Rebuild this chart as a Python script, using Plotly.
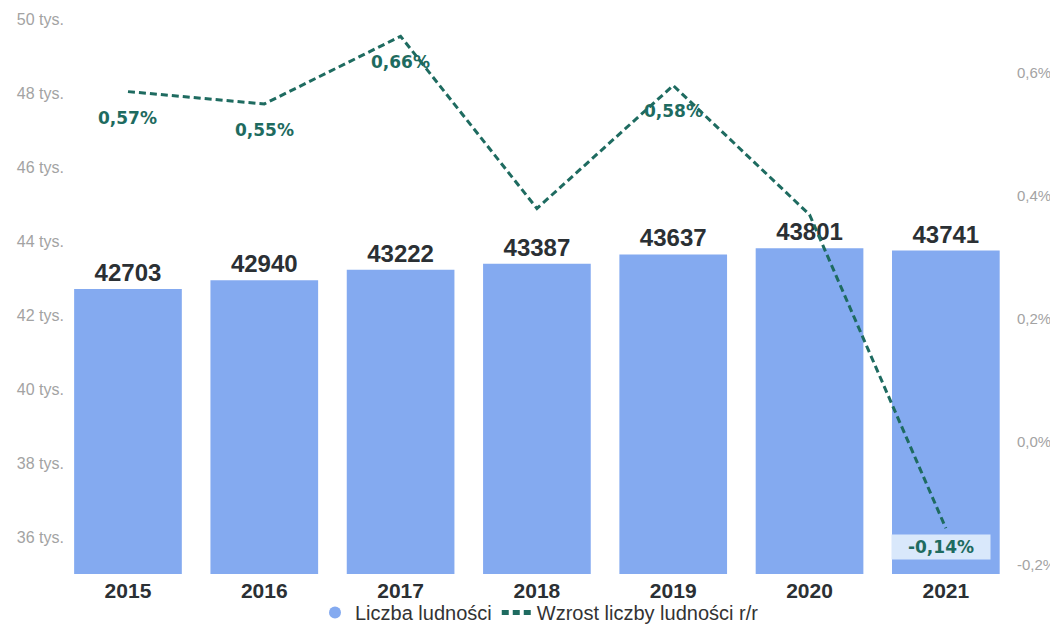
import plotly.graph_objects as go

years = ["2015", "2016", "2017", "2018", "2019", "2020", "2021"]
population = [42703, 42940, 43222, 43387, 43637, 43801, 43741]
growth_pct = [0.57, 0.55, 0.66, 0.38, 0.58, 0.37, -0.14]
growth_labels = ["0,57%", "0,55%", "0,66%", "", "0,58%", "", "-0,14%"]
left_ticks = [36000, 38000, 40000, 42000, 44000, 46000, 48000, 50000]
right_ticks = [-0.2, 0.0, 0.2, 0.4, 0.6]

BAR = "#84aaf0"
LINE = "#1e6b60"
TXT = "#2b3034"
TICK = "#a3a3a3"

fig = go.Figure()
fig.add_trace(go.Bar(
    x=years, y=population, name="Liczba ludności",
    marker=dict(color=BAR, line=dict(width=0)),
    text=[str(v) for v in population], textposition="outside",
    textfont=dict(family="Liberation Sans", size=24, color=TXT, weight="bold"),
    cliponaxis=False, showlegend=False,
))
# legend proxy for bar series (circle marker as in reference)
fig.add_trace(go.Scatter(
    x=[None], y=[None], mode="markers", name="Liczba ludności",
    marker=dict(symbol="circle", size=7, color=BAR),
))
fig.add_trace(go.Scatter(
    x=years, y=growth_pct, yaxis="y2", mode="lines",
    name="Wzrost liczby ludności r/r",
    line=dict(color=LINE, width=3, dash="7px,4px"),
))

for i, (v, lab) in enumerate(zip(growth_pct, growth_labels)):
    if not lab:
        continue
    last = i == len(years) - 1
    if last:
        fig.add_annotation(
            x=i, y=v, xref="x", yref="y2", text="<b>" + lab + "</b>",
            showarrow=False, yshift=-19, xshift=-5, width=98, height=24,
            font=dict(family="DejaVu Sans", size=17, color=LINE),
            bgcolor="#d9e8fb", borderpad=0,
        )
    else:
        fig.add_annotation(
            x=i, y=v, xref="x", yref="y2", text="<b>" + lab + "</b>",
            showarrow=False, yshift=-26,
            font=dict(family="DejaVu Sans", size=17, color=LINE),
        )

fig.update_layout(
    width=1050, height=631,
    margin=dict(l=57, r=44, t=11, b=65),
    paper_bgcolor="white", plot_bgcolor="white",
    separators=", ",
    bargap=0.21,
    font=dict(family="Liberation Sans", color=TXT),
    xaxis=dict(
        type="category", range=[-0.462, 6.5], showgrid=False, showline=False,
        automargin=False, ticklabelstandoff=2,
        ticks="", tickfont=dict(family="Liberation Sans", size=21, color=TXT,
                                weight="bold"),
    ),
    yaxis=dict(
        range=[35000, 50000], tickvals=left_ticks, automargin=False,
        ticktext=[f"{v // 1000} tys." for v in left_ticks],
        showgrid=False, zeroline=False, showline=False, ticks="",
        tickfont=dict(family="Liberation Sans", size=16, color=TICK),
    ),
    yaxis2=dict(
        overlaying="y", side="right", range=[-0.2144, 0.6881], automargin=False,
        tickvals=right_ticks, ticklabelstandoff=2,
        ticktext=[f"{v:.1f}".replace(".", ",") + "%" for v in right_ticks],
        showgrid=False, zeroline=False, showline=False, ticks="",
        tickfont=dict(family="Liberation Sans", size=15, color=TICK),
    ),
    legend=dict(
        orientation="h", x=0.5, xanchor="center",
        yref="container", y=0.042, yanchor="middle",
        bgcolor="rgba(0,0,0,0)",
        font=dict(family="Liberation Sans", size=20, color="#333333"),
        itemsizing="constant", traceorder="normal", itemwidth=30,
    ),
)

fig.write_html("out.html")
